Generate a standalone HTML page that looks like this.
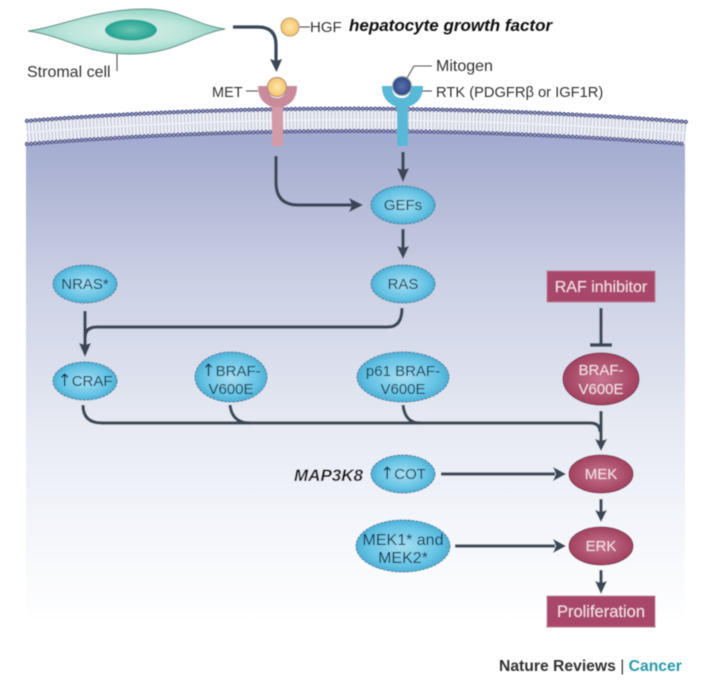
<!DOCTYPE html>
<html><head><meta charset="utf-8"><style>
html,body{margin:0;padding:0;background:#fff}
svg{display:block}
text{font-family:"Liberation Sans",sans-serif;font-size:14px}
.c{text-anchor:middle;fill:#14344e;font-size:15px}
.w{text-anchor:middle;fill:#f3dde3;font-size:15px}
.g{fill:#333;font-size:15px}
.bi{font-weight:bold;font-style:italic;fill:#111;font-size:17px}
.l{fill:none;stroke:#3a4757;stroke-width:3.2}
.t{fill:none;stroke:#555;stroke-width:1.1}
.a{font-family:"DejaVu Sans",sans-serif;font-size:17px}
</style></head><body>
<svg width="705" height="688" viewBox="0 0 705 688" xmlns="http://www.w3.org/2000/svg">
<defs>
<linearGradient id="bg" gradientUnits="userSpaceOnUse" x1="0" y1="118" x2="0" y2="625"><stop offset=".04" stop-color="#a3abd0"/><stop offset=".16" stop-color="#b4bbd8"/><stop offset=".32" stop-color="#cbd0e4"/><stop offset=".61" stop-color="#e7eaf3"/><stop offset=".79" stop-color="#f3f5fa"/><stop offset="1" stop-color="#ffffff"/></linearGradient>
<radialGradient id="blue"><stop offset="0" stop-color="#a5def2"/><stop offset=".75" stop-color="#66c3e4"/><stop offset="1" stop-color="#4eafd5"/></radialGradient>
<radialGradient id="red"><stop offset="0" stop-color="#c67490"/><stop offset="1" stop-color="#a2425f"/></radialGradient>
<radialGradient id="yel"><stop offset="0" stop-color="#fde6a8"/><stop offset="1" stop-color="#f5c46e"/></radialGradient>
<radialGradient id="nuc"><stop offset="0" stop-color="#6cc6b4"/><stop offset="1" stop-color="#22a292"/></radialGradient>
<radialGradient id="mit"><stop offset="0" stop-color="#5a74ae"/><stop offset="1" stop-color="#2f4685"/></radialGradient>
<radialGradient id="cell"><stop offset="0" stop-color="#d6efe9"/><stop offset=".6" stop-color="#bde5db"/><stop offset="1" stop-color="#8fd3c2"/></radialGradient>
<filter id="b" x="-5%" y="-5%" width="110%" height="110%"><feGaussianBlur stdDeviation=".45"/></filter>
</defs>
<g filter="url(#b)">
<!-- cytoplasm -->
<path d="M26 144 Q350 118 685 144 V625 H26 Z" fill="url(#bg)"/>
<!-- membrane -->
<path d="M27 121 Q350 96 687 122 L685 144 Q350 118 27 144 Z" fill="#eef0f6"/>
<path d="M27 132.500 Q350 107 686 133" fill="none" stroke="#b8bdd1" stroke-width="18" stroke-dasharray="1 2.500"/>
<path d="M27 132.500 Q350 107 686 133" fill="none" stroke="#eef0f6" stroke-width="1.500"/>
<path d="M27 121 Q350 96 687 122 M27 144 Q350 118 685 144" fill="none" stroke="#565b92" stroke-width="4.400" stroke-linecap="round" stroke-dasharray="0 4.200"/>
<path d="M27 121 Q350 96 687 122 M27 144 Q350 118 685 144" fill="none" stroke="#bcc0d8" stroke-width="1.600" stroke-linecap="round" stroke-dasharray="0 4.200"/>
<!-- stromal cell -->
<path d="M28 31 C60 27 95 9 145 9 C180 9 195 25 225 29 C195 34 175 54 130 54 C85 54 65 36 28 31 Z" fill="url(#cell)" stroke="#5f8c86" stroke-width="1"/>
<ellipse cx="131" cy="30" rx="26" ry="10.500" fill="url(#nuc)"/>
<path class="t" d="M117 54 V71"/>
<text class="g" x="27" y="77" style="font-size:16px">Stromal cell</text>
<!-- HGF -->
<path class="t" d="M299 27 H310"/>
<circle cx="290" cy="27" r="9" fill="url(#yel)" stroke="#b59b6a"/>
<text class="g" x="310" y="32">HGF</text>
<text class="bi" x="349" y="31">hepatocyte growth factor</text>
<path class="l" d="M233 27 H258 Q276 27 276 45 V62"/>
<path d="M270 59 L276 61 L282 59 L276.500 72 Z" fill="#3a4757"/>
<!-- MET -->
<text class="g" x="212" y="97" style="font-size:14.500px">MET</text>
<path class="t" d="M246 91 H258"/>
<path d="M258 86 H268 Q268 98 277 98 Q286 98 286 86 H297 Q297 102 283 107 V146 H272 V107 Q258 102 258 86 Z" fill="#c98b9c"/>
<path d="M272 107 H283 V146 H272 Z" fill="#d39aa8"/>
<circle cx="277" cy="87" r="9.500" fill="url(#yel)" stroke="#a28a70"/>
<!-- RTK -->
<path d="M382 86 H392 Q392 98 402 98 Q411 98 411 86 H423 Q423 102 408 107 V146 H397 V107 Q382 102 382 86 Z" fill="#58b8d5"/>
<circle cx="402" cy="86" r="9.500" fill="url(#mit)" stroke="#9aa"/>
<path class="t" d="M407 78 L414 66 H432"/>
<path class="t" d="M422 91 H432"/>
<text class="g" x="436" y="71" style="font-size:16px">Mitogen</text>
<text class="g" x="436" y="97" style="font-size:14.700px">RTK (PDGFRβ or IGF1R)</text>
<!-- connectors -->
<path class="l" d="M276 156 V182 Q276 205 298 205 H352"/>
<path d="M349 198 L352 205 L349 212 L363 205 Z" fill="#3a4757"/>
<path class="l" d="M403 152 V172"/>
<path d="M397 168 L403 170 L409 168 L403 182 Z" fill="#3a4757"/>
<path class="l" d="M403 229 V249"/>
<path d="M397 246 L403 248 L409 246 L403 259 Z" fill="#3a4757"/>
<path class="l" d="M85 311 V348"/>
<path d="M79 343 L85 345 L91 343 L85 357 Z" fill="#3a4757"/>
<path class="l" d="M85 338 Q85 327 97 327 H388 Q402 327 402 308"/>
<path class="l" d="M83 405 Q83 423 102 423 H590 Q600 423 600 432"/>
<path class="l" d="M230 405 Q232 423 250 423"/>
<path class="l" d="M403 405 Q405 423 420 423"/>
<path class="l" d="M601 411 V443"/>
<path d="M595 439 L601 441 L607 439 L601 451 Z" fill="#3a4757"/>
<path class="l" d="M601 308 V345"/>
<path d="M590 345 H612" fill="none" stroke="#3a4757" stroke-width="3.500"/>
<path class="l" d="M441 474 H555"/>
<path d="M553 467 L556 474 L553 481 L566 474 Z" fill="#3a4757"/>
<path class="l" d="M455 546 H555"/>
<path d="M553 539 L556 546 L553 553 L566 546 Z" fill="#3a4757"/>
<path class="l" d="M601 499 V514"/>
<path d="M595 510 L601 512 L607 510 L601 522 Z" fill="#3a4757"/>
<path class="l" d="M601 570 V586"/>
<path d="M595 581 L601 583 L607 581 L601 594 Z" fill="#3a4757"/>
<!-- blue nodes -->
<g fill="url(#blue)" stroke="#3d7f9c" stroke-width="1" stroke-dasharray="3 1">
<ellipse cx="403" cy="205" rx="32" ry="19"/>
<ellipse cx="403" cy="284" rx="32" ry="19"/>
<ellipse cx="85" cy="284" rx="32" ry="19"/>
<ellipse cx="85" cy="381" rx="32" ry="19"/>
<ellipse cx="231" cy="377" rx="36" ry="25"/>
<ellipse cx="403" cy="377" rx="46" ry="25"/>
<ellipse cx="403" cy="474" rx="32" ry="19"/>
<ellipse cx="403" cy="546" rx="47" ry="26"/>
</g>
<text class="c" x="403" y="210">GEFs</text>
<text class="c" x="403" y="289">RAS</text>
<text class="c" x="85" y="289">NRAS*</text>
<text class="c" x="85" y="386"><tspan class="a">↑</tspan>CRAF</text>
<text class="c" x="231" y="376"><tspan class="a">↑</tspan>BRAF-</text>
<text class="c" x="231" y="394">V600E</text>
<text class="c" x="403" y="376">p61 BRAF-</text>
<text class="c" x="403" y="394">V600E</text>
<text class="c" x="403" y="479"><tspan class="a">↑</tspan>COT</text>
<text class="c" x="403" y="545" style="font-size:16px">MEK1* and</text>
<text class="c" x="403" y="563" style="font-size:16px">MEK2*</text>
<text class="bi" x="294" y="481">MAP3K8</text>
<!-- red nodes -->
<rect x="547" y="271" width="108" height="31" fill="#a9476a" stroke="#bb7a90"/>
<text class="w" x="601" y="292" style="font-size:16px">RAF inhibitor</text>
<ellipse cx="601" cy="379" rx="38" ry="26" fill="url(#red)" stroke="#7e3350"/>
<text class="w" x="601" y="375">BRAF-</text>
<text class="w" x="601" y="394">V600E</text>
<ellipse cx="601" cy="474" rx="32" ry="19" fill="url(#red)" stroke="#7e3350"/>
<text class="w" x="601" y="479">MEK</text>
<ellipse cx="601" cy="546" rx="32" ry="19" fill="url(#red)" stroke="#7e3350"/>
<text class="w" x="601" y="551">ERK</text>
<rect x="547" y="596" width="108" height="31" fill="#a9476a" stroke="#bb7a90"/>
<text class="w" x="601" y="617" style="font-size:16.500px">Proliferation</text>
<!-- credit -->
<text x="499" y="671" style="font-weight:bold;fill:#333;font-size:15.700px">Nature Reviews <tspan style="font-weight:normal">|</tspan> <tspan fill="#2a9aa8">Cancer</tspan></text>
</g>
</svg>
</body></html>
